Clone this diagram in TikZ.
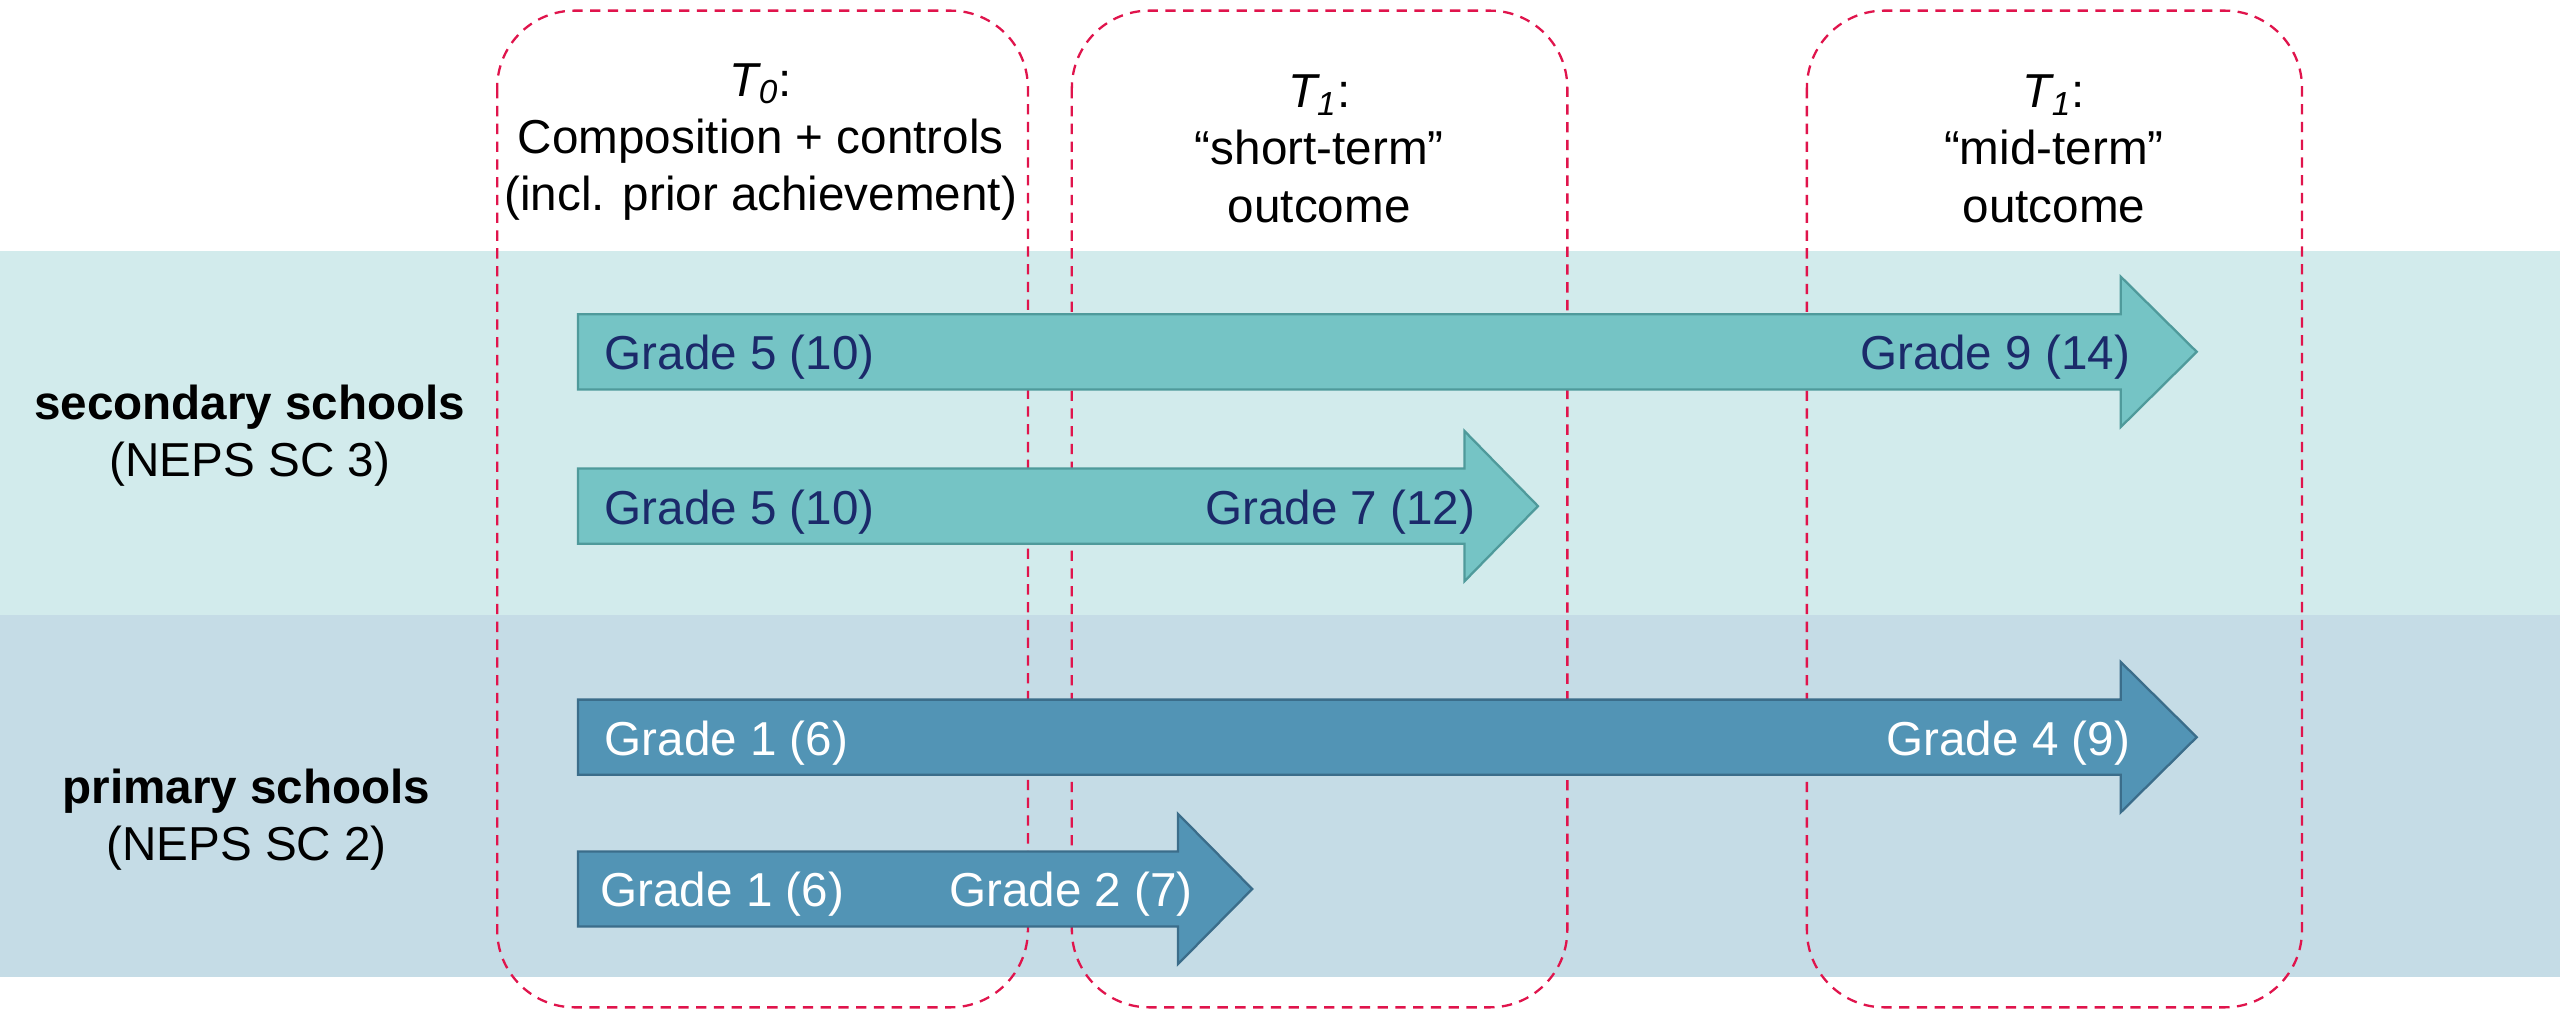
\documentclass[tikz,border=0pt]{standalone}
\usepackage{fontspec}
\setmainfont{Liberation Sans}
\usetikzlibrary{positioning}

\definecolor{secband}{HTML}{D2EBEC}
\definecolor{priband}{HTML}{C5DCE6}
\definecolor{tealfill}{HTML}{75C4C5}
\definecolor{tealline}{HTML}{4F9A9B}
\definecolor{bluefill}{HTML}{5294B5}
\definecolor{blueline}{HTML}{3B6D8A}
\definecolor{navytext}{HTML}{1B2A6A}
\definecolor{boxred}{HTML}{E0144C}

% block arrow: style, neck x, tip x, centre y
\newcommand{\gradearrow}[4]{%
	\filldraw[#1] (354,#4-23) -- (#2,#4-23) -- (#2,#4-46) -- (#3,#4)
		-- (#2,#4+46) -- (#2,#4+23) -- (354,#4+23) -- cycle;}

\begin{document}
\begin{tikzpicture}
	[x=0.02cm, y=-0.02cm,
	every node/.style={font=\fontsize{16.6}{19.9}\selectfont, inner sep=0pt},
	head/.style={align=center, anchor=base},
	group/.style={align=center, anchor=base},
	onteal/.style={text=navytext},
	onblue/.style={text=white},
	periodbox/.style={draw=boxred, dash pattern=on 3.6pt off 2.6pt, line width=0.8pt, rounded corners=0.95cm},
	tealarrow/.style={fill=tealfill, draw=tealline, line width=0.8pt},
	bluearrow/.style={fill=bluefill, draw=blueline, line width=0.8pt}]
	\useasboundingbox (0,0) rectangle (1568,620);
	\fill[white] (0,0) rectangle (1568,620);
	% cohorts
	\fill[secband] (0,154) rectangle (1568,376.5);
	\fill[priband] (0,376.5) rectangle (1568,598.5);
	% measurement points
	\draw[periodbox] (304.5,6.5) rectangle (629.6,617);
	\draw[periodbox] (656.5,6.5) rectangle (960,617);
	\draw[periodbox] (1106.7,6.5) rectangle (1410,617);
	\node[head] (t0) at (466,129) {\textit{T\textsubscript{0}}:\\Composition + controls\\(incl. prior achievement)};
	\node[head] (t1short) at (808,136) {\textit{T\textsubscript{1}}:\\“short-term”\\outcome};
	\node[head] (t1mid) at (1258,136) {\textit{T\textsubscript{1}}:\\“mid-term”\\outcome};
	\node[group] (sec) at (153,292) {\textbf{secondary schools}\\(NEPS SC 3)};
	\node[group] (pri) at (151,527) {\textbf{primary schools}\\(NEPS SC 2)};
	% arrows
	\gradearrow{tealarrow}{1299}{1345.5}{215.5}
	\gradearrow{tealarrow}{897}{942}{310}
	\gradearrow{bluearrow}{1299}{1345.5}{451.5}
	\gradearrow{bluearrow}{721.5}{767}{544.5}
	\node[onteal, anchor=base west] (seclongfrom) at (370,226.5) {Grade 5 (10)};
	\node[onteal, anchor=base east] (seclongto) at (1305,226.5) {Grade 9 (14)};
	\node[onteal, anchor=base west] (secshortfrom) at (370,321) {Grade 5 (10)};
	\node[onteal, anchor=base east] (secshortto) at (904,321) {Grade 7 (12)};
	\node[onblue, anchor=base west] (prilongfrom) at (370,462.5) {Grade 1 (6)};
	\node[onblue, anchor=base east] (prilongto) at (1305,462.5) {Grade 4 (9)};
	\node[onblue, anchor=base west] (prishortfrom) at (367.5,555.5) {Grade 1 (6)};
	\node[onblue, anchor=base east] (prishortto) at (731,555.5) {Grade 2 (7)};
\end{tikzpicture}
\end{document}
